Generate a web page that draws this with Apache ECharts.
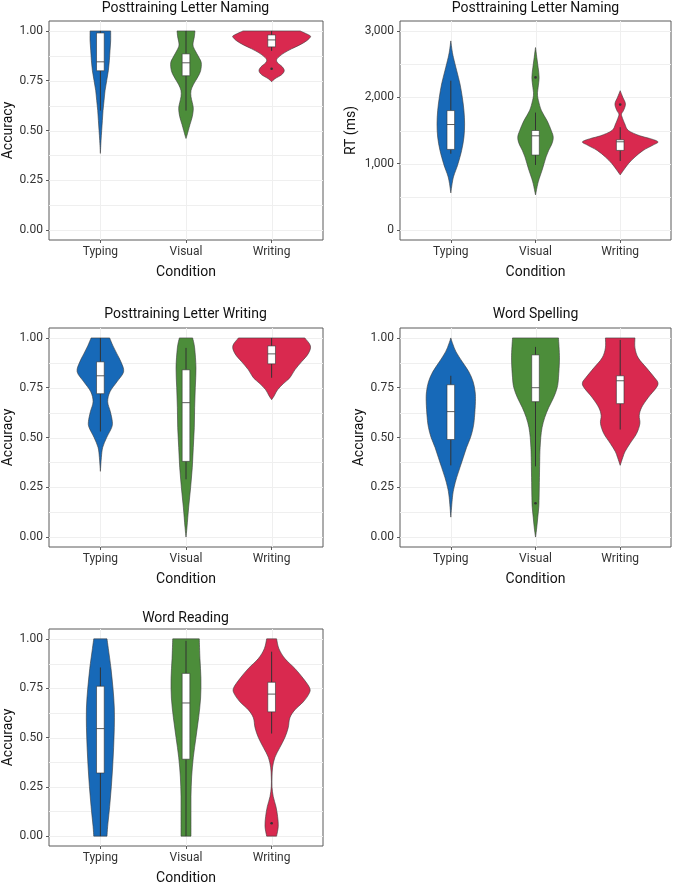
<!DOCTYPE html>
<html>
<head>
<meta charset="utf-8">
<script src="https://cdn.jsdelivr.net/npm/echarts@6/dist/echarts.min.js"></script>
<style>html,body{margin:0;padding:0;background:#fff}#c{width:677px;height:886px}</style>
</head>
<body>
<div id="c"></div>
<script>
// ---------------- DATA ----------------
const conditions = ['Typing', 'Visual', 'Writing'];
const panelTitles = ['Posttraining Letter Naming', 'Posttraining Letter Naming', 'Posttraining Letter Writing', 'Word Spelling', 'Word Reading'];
const yNames = ['Accuracy', 'RT (ms)', 'Accuracy', 'Accuracy', 'Accuracy'];
const accTicks = [0, 0.25, 0.5, 0.75, 1];
const accMinor = [0.125, 0.375, 0.625, 0.875];
const rtTicks = [0, 1000, 2000, 3000];
const rtMinor = [500, 1500, 2500];

// Violin outlines: [value, relative half-width]
const namingTyping = [[0.385,0],[0.45,2],[0.5,4],[0.55,6],[0.6,8],[0.65,11],[0.7,14],[0.75,19],[0.8,24],[0.85,27],[0.9,29],[0.95,31],[1.0,31]];
const namingVisual = [[0.46,0],[0.47,2],[0.5,7],[0.53,12],[0.57,19],[0.61,22],[0.64,19],[0.67,15],[0.7,15],[0.73,22],[0.77,36],[0.8,44],[0.84,46],[0.87,38],[0.9,28],[0.93,21],[0.97,25],[1.0,27]];
const namingWriting = [[0.745,0],[0.76,10],[0.78,30],[0.8,38],[0.82,32],[0.84,18],[0.855,15],[0.87,22],[0.89,38],[0.91,60],[0.93,85],[0.95,105],[0.97,117],[0.98,112],[1.0,86]];

const rtTyping = [[560,0],[700,4],[800,8],[900,15],[1000,22],[1200,33],[1400,40],[1600,42],[1800,40],[2000,35],[2200,28],[2400,18],[2600,8],[2700,4],[2850,0]];
const rtVisual = [[530,0],[700,7],[800,13],[900,20],[1000,26],[1100,32],[1200,40],[1300,50],[1400,54],[1500,48],[1650,35],[1800,18],[1950,9],[2050,6],[2150,8],[2300,11],[2450,8],[2600,4],[2750,0]];
const rtWriting = [[830,0],[900,10],[1000,25],[1100,45],[1200,70],[1280,100],[1330,115],[1380,90],[1420,60],[1500,25],[1600,14],[1700,6],[1750,4],[1800,10],[1900,16],[2000,8],[2100,0]];

const writingTyping = [[0.33,0],[0.4,3],[0.45,7],[0.5,19],[0.55,34],[0.58,36],[0.63,30],[0.68,22],[0.73,29],[0.78,50],[0.83,70],[0.88,62],[0.92,50],[0.96,38],[1.0,28]];
const writingVisual = [[0,0],[0.05,3],[0.15,8],[0.25,14],[0.35,19],[0.45,22],[0.55,25],[0.65,26],[0.75,28],[0.85,30],[0.95,26],[1.0,20]];
const writingWriting = [[0.69,0],[0.71,8],[0.74,18],[0.77,35],[0.8,55],[0.84,70],[0.88,90],[0.92,110],[0.96,117],[1.0,100]];

const spellTyping = [[0.1,0],[0.2,5],[0.25,10],[0.3,18],[0.35,28],[0.4,38],[0.45,48],[0.5,60],[0.55,68],[0.6,72],[0.68,75],[0.73,74],[0.78,68],[0.83,55],[0.88,35],[0.93,16],[0.97,6],[1.0,0]];
const spellVisual = [[0,0],[0.05,4],[0.1,7],[0.15,10],[0.2,11],[0.3,12],[0.4,13],[0.45,14],[0.5,16],[0.55,20],[0.6,28],[0.65,40],[0.7,55],[0.75,66],[0.8,70],[0.9,73],[1.0,70]];
const spellWriting = [[0.36,0],[0.4,8],[0.43,15],[0.47,30],[0.52,50],[0.57,60],[0.61,58],[0.65,65],[0.7,85],[0.75,110],[0.775,115],[0.8,105],[0.85,80],[0.9,55],[0.95,45],[1.0,45]];

const readTyping = [[0,20],[0.05,22],[0.15,28],[0.25,33],[0.35,37],[0.45,40],[0.55,42],[0.65,42],[0.75,38],[0.85,32],[0.95,24],[1.0,20]];
const readVisual = [[0,15],[0.1,15],[0.2,15],[0.3,17],[0.4,22],[0.5,30],[0.6,38],[0.7,44],[0.8,45],[0.9,42],[1.0,40]];
const readWriting = [[0,15],[0.05,20],[0.1,18],[0.15,13],[0.2,5],[0.25,1],[0.3,1],[0.35,3],[0.4,10],[0.45,25],[0.5,40],[0.55,50],[0.6,55],[0.64,70],[0.68,95],[0.72,112],[0.75,115],[0.8,95],[0.85,70],[0.9,40],[0.95,22],[1.0,15]];

// Box stats: [lower whisker, Q1, median, Q3, upper whisker]
const namingBoxes = [[0.60,0.80,0.845,0.99,1.0],[0.60,0.775,0.84,0.885,1.0],[0.90,0.92,0.955,0.98,1.0]];
const rtBoxes = [[1150,1215,1590,1800,2250],[980,1130,1420,1500,1770],[1040,1200,1330,1360,1550]];
const writingBoxes = [[0.53,0.72,0.81,0.88,1.0],[0.29,0.38,0.675,0.84,0.95],[0.80,0.87,0.92,0.96,1.0]];
const spellBoxes = [[0.36,0.49,0.63,0.765,0.81],[0.355,0.68,0.75,0.915,0.955],[0.54,0.67,0.785,0.81,0.99]];
const readBoxes = [[0,0.32,0.545,0.76,0.855],[0,0.39,0.675,0.825,0.99],[0.52,0.63,0.72,0.78,0.935]];

// Outliers per condition
const namingOutliers = [[],[],[0.81]];
const rtOutliers = [[],[2300],[1890]];
const writingOutliers = [[],[],[]];
const spellOutliers = [[],[0.17],[]];
const readOutliers = [[],[],[0.065]];

// ---------------- STYLE / LAYOUT ----------------
const colors = ['#1769B8', '#4C8D3A', '#D9294F'];
const FONT = "Roboto, 'Liberation Sans', sans-serif";
const WIDTH_UNIT = 1 / 258;   // relative half-width -> axis units
const BOX_W = 0.09;

const panels = [
  {violins:[namingTyping,namingVisual,namingWriting], boxes:namingBoxes, outliers:namingOutliers, rt:false,
   grid:{left:48, top:21, width:275, height:219}, titleX:185.5, titleY:1},
  {violins:[rtTyping,rtVisual,rtWriting], boxes:rtBoxes, outliers:rtOutliers, rt:true,
   grid:{left:400, top:21, width:271, height:219}, titleX:535.5, titleY:1},
  {violins:[writingTyping,writingVisual,writingWriting], boxes:writingBoxes, outliers:writingOutliers, rt:false,
   grid:{left:48, top:328, width:275, height:219}, titleX:185.5, titleY:307},
  {violins:[spellTyping,spellVisual,spellWriting], boxes:spellBoxes, outliers:spellOutliers, rt:false,
   grid:{left:400, top:328, width:271, height:219}, titleX:535.5, titleY:307},
  {violins:[readTyping,readVisual,readWriting], boxes:readBoxes, outliers:readOutliers, rt:false,
   grid:{left:48, top:629, width:275, height:220}, titleX:185.5, titleY:611}
];

// smooth side path (Catmull-Rom -> cubic bezier), continuing an existing path
function sidePath(pts) {
  let d = '';
  for (let i = 0; i < pts.length - 1; i++) {
    const p0 = pts[Math.max(i - 1, 0)], p1 = pts[i], p2 = pts[i + 1], p3 = pts[Math.min(i + 2, pts.length - 1)];
    const c1 = [p1[0] + (p2[0] - p0[0]) / 6, p1[1] + (p2[1] - p0[1]) / 6];
    const c2 = [p2[0] - (p3[0] - p1[0]) / 6, p2[1] - (p3[1] - p1[1]) / 6];
    d += ` C${c1[0].toFixed(2)},${c1[1].toFixed(2)} ${c2[0].toFixed(2)},${c2[1].toFixed(2)} ${p2[0].toFixed(2)},${p2[1].toFixed(2)}`;
  }
  return d;
}

const grids = [], xAxes = [], yAxes = [], series = [], titles = [];

panels.forEach((p, k) => {
  grids.push(Object.assign({show:true, borderColor:'#5a5a5a', borderWidth:1, backgroundColor:'#fff'}, p.grid));
  titles.push({text: panelTitles[k], left: p.titleX, top: p.titleY, textAlign:'center', padding:0,
    textStyle:{fontFamily:FONT, fontSize:14, fontWeight:'normal', color:'#111'}});
  xAxes.push({
    type:'value', gridIndex:k, min:0.4, max:3.6,
    axisLine:{show:false, onZero:false},
    axisTick:{show:true, customValues:[1,2,3], length:3, lineStyle:{color:'#5a5a5a'}},
    axisLabel:{customValues:[1,2,3], formatter:(v)=>conditions[Math.round(v)-1], fontFamily:FONT, fontSize:12, color:'#333', margin:6},
    splitLine:{show:false},
    name:'Condition', nameLocation:'middle', nameGap:25,
    nameTextStyle:{fontFamily:FONT, fontSize:14, color:'#111'}
  });
  const ticks = p.rt ? rtTicks : accTicks;
  yAxes.push({
    type:'value', gridIndex:k,
    min: p.rt ? -150 : -0.05, max: p.rt ? 3150 : 1.05,
    axisLine:{show:false, onZero:false},
    axisTick:{show:true, customValues:ticks, length:3, lineStyle:{color:'#5a5a5a'}},
    axisLabel:{customValues:ticks, fontFamily:FONT, fontSize:12, color:'#333', margin:6,
      formatter:(v)=> p.rt ? Number(v).toLocaleString('en-US') : Number(v).toFixed(2)},
    splitLine:{show:false},
    name: yNames[k], nameLocation:'middle', nameGap: p.rt ? 42 : 34,
    nameTextStyle:{fontFamily:FONT, fontSize:14, color:'#111'}
  });

  const major = ticks, minor = p.rt ? rtMinor : accMinor;
  // gridlines
  series.push({
    type:'custom', xAxisIndex:k, yAxisIndex:k, z:1, silent:true,
    data:[[1, 0]],
    renderItem:(params, api) => {
      const cs = params.coordSys;
      const children = [];
      major.concat(minor).forEach(v => {
        const y = Math.round(api.coord([1, v])[1]) + 0.5;
        children.push({type:'line', shape:{x1:cs.x, y1:y, x2:cs.x+cs.width, y2:y},
          style:{stroke: '#efefef', lineWidth: 1}});
      });
      [1,2,3].forEach(c => {
        const x = Math.round(api.coord([c, 0])[0]) + 0.5;
        children.push({type:'line', shape:{x1:x, y1:cs.y, x2:x, y2:cs.y+cs.height},
          style:{stroke:'#efefef', lineWidth:1}});
      });
      return {type:'group', children};
    }
  });

  // violins + boxes
  series.push({
    type:'custom', xAxisIndex:k, yAxisIndex:k, z:3, silent:true,
    data:[[1, 0],[2, 0],[3, 0]],
    renderItem:(params, api) => {
      const i = params.dataIndex;
      const cx = i + 1;
      const prof = p.violins[i];
      const right = prof.map(([v, w]) => api.coord([cx + w * WIDTH_UNIT, v]));
      const left = prof.slice().reverse().map(([v, w]) => api.coord([cx - w * WIDTH_UNIT, v]));
      let d = `M${right[0][0].toFixed(2)},${right[0][1].toFixed(2)}` + sidePath(right);
      d += ` L${left[0][0].toFixed(2)},${left[0][1].toFixed(2)}` + sidePath(left) + ' Z';
      const [wl, q1, md, q3, wh] = p.boxes[i];
      const children = [];
      children.push({type:'path', shape:{pathData:d},
        style:{fill:colors[i], stroke:'#3a3a3a', lineWidth:0.6}});
      const xc = api.coord([cx, 0])[0];
      const yWl = api.coord([cx, wl])[1], yWh = api.coord([cx, wh])[1];
      const yQ1 = api.coord([cx, q1])[1], yQ3 = api.coord([cx, q3])[1], yMd = api.coord([cx, md])[1];
      const xL = api.coord([cx - BOX_W/2, 0])[0], xR = api.coord([cx + BOX_W/2, 0])[0];
      children.push({type:'line', shape:{x1:xc, y1:yQ3, x2:xc, y2:yWh}, style:{stroke:'#333', lineWidth:1}});
      children.push({type:'line', shape:{x1:xc, y1:yQ1, x2:xc, y2:yWl}, style:{stroke:'#333', lineWidth:1}});
      children.push({type:'rect', shape:{x:xL, y:yQ3, width:xR-xL, height:yQ1-yQ3},
        style:{fill:'#fff', stroke:'#333', lineWidth:0.6}});
      children.push({type:'line', shape:{x1:xL, y1:yMd, x2:xR, y2:yMd}, style:{stroke:'#333', lineWidth:0.8}});
      p.outliers[i].forEach(v => {
        const c = api.coord([cx, v]);
        children.push({type:'circle', shape:{cx:c[0], cy:c[1], r:1.3}, style:{fill:'#333'}});
      });
      return {type:'group', children};
    }
  });
});

const chart = echarts.init(document.getElementById('c'), null, {renderer:'canvas'});
chart.setOption({
  animation:false,
  backgroundColor:'#fff',
  title: titles,
  grid: grids,
  xAxis: xAxes,
  yAxis: yAxes,
  series: series
});
</script>
</body>
</html>
